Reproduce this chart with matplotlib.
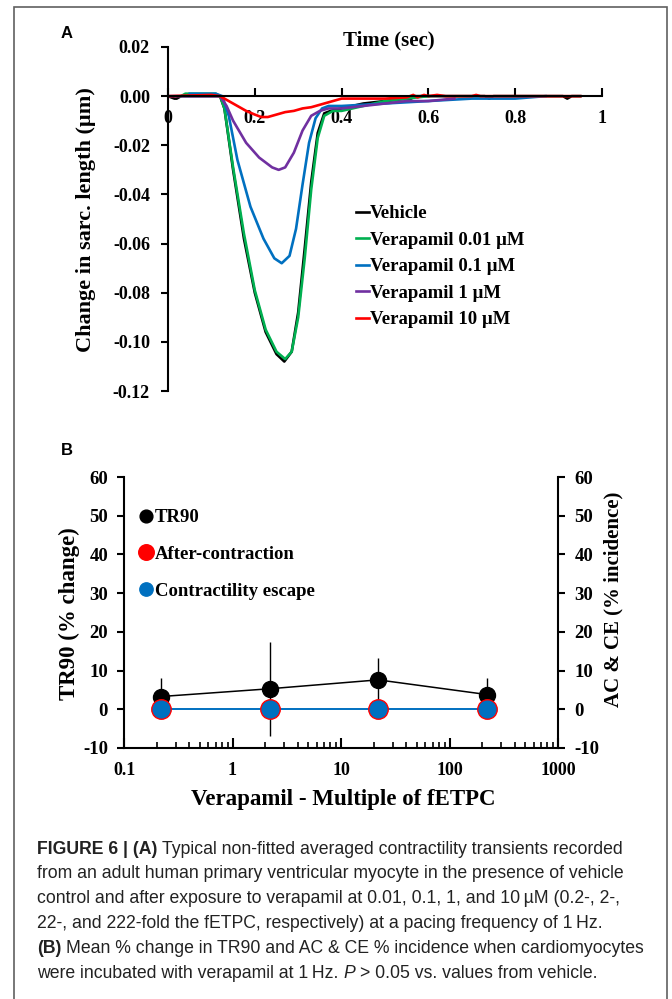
import matplotlib
matplotlib.use('Agg')
import matplotlib.pyplot as plt
from matplotlib import font_manager
from matplotlib.patches import Rectangle
from matplotlib.ticker import LogLocator, NullFormatter

# ---------------- panel A: contractility transients ----------------
t_vehicle = [0.0, 0.015, 0.02, 0.03, 0.10, 0.12, 0.13, 0.15, 0.175, 0.20, 0.225, 0.25, 0.268,
             0.285, 0.30, 0.315, 0.33, 0.345, 0.36, 0.375, 0.40, 0.45, 0.50, 0.55, 0.56, 0.57,
             0.60, 0.73, 0.74, 0.75, 0.91, 0.92, 0.93, 0.95]
y_vehicle = [0.0, -0.001, -0.001, 0.0, 0.0, 0.0, -0.005, -0.030, -0.058, -0.080, -0.096, -0.105, -0.108,
             -0.104, -0.088, -0.062, -0.035, -0.015, -0.007, -0.006, -0.005, -0.003, -0.002, -0.001, -0.001, 0.0,
             0.0, 0.0, -0.001, 0.0, 0.0, -0.001, 0.0, 0.0]

t_v001 = [0.03, 0.04, 0.11, 0.12, 0.13, 0.15, 0.175, 0.20, 0.225, 0.25, 0.27, 0.285, 0.30,
          0.315, 0.33, 0.345, 0.36, 0.38, 0.40, 0.45, 0.50, 0.55, 0.60]
y_v001 = [0.0, 0.001, 0.001, 0.0, -0.005, -0.029, -0.056, -0.079, -0.095, -0.104, -0.107, -0.104, -0.090,
          -0.066, -0.038, -0.017, -0.008, -0.006, -0.006, -0.004, -0.002, -0.001, 0.0]

t_v01 = [0.05, 0.11, 0.125, 0.14, 0.16, 0.19, 0.22, 0.245, 0.262, 0.28, 0.295, 0.31, 0.325,
         0.34, 0.355, 0.37, 0.40, 0.50, 0.60, 0.70, 0.80, 0.87]
y_v01 = [0.001, 0.001, 0.0, -0.008, -0.026, -0.045, -0.058, -0.066, -0.068, -0.065, -0.054, -0.036, -0.019,
         -0.009, -0.005, -0.004, -0.004, -0.003, -0.002, -0.001, -0.001, 0.0]

t_v1 = [0.0, 0.12, 0.135, 0.15, 0.18, 0.21, 0.24, 0.255, 0.27, 0.29, 0.31, 0.33, 0.35,
        0.37, 0.40, 0.45, 0.50, 0.55, 0.60, 0.66]
y_v1 = [0.0, 0.0, -0.004, -0.010, -0.019, -0.025, -0.029, -0.030, -0.029, -0.023, -0.014, -0.008, -0.006,
        -0.005, -0.005, -0.004, -0.003, -0.002, -0.002, -0.001]

t_v10 = [0.0, 0.10, 0.12, 0.14, 0.16, 0.18, 0.20, 0.215, 0.23, 0.25, 0.27, 0.29, 0.31, 0.33,
         0.35, 0.37, 0.39, 0.40, 0.45, 0.50, 0.55, 0.565, 0.575, 0.59, 0.60, 0.62, 0.64, 0.70,
         0.71, 0.72, 0.80, 0.95]
y_v10 = [0.0, 0.0005, 0.0, -0.002, -0.004, -0.006, -0.0075, -0.0085, -0.0085, -0.0075, -0.0065, -0.006, -0.005, -0.0045,
         -0.0035, -0.0025, -0.0015, -0.001, -0.001, -0.001, -0.0005, 0.0005, -0.0005, 0.0005, 0.0, 0.0005, 0.0, 0.0,
         0.0005, 0.0, 0.0, 0.0]

labels_a = ['Vehicle', 'Verapamil 0.01 \u00b5M', 'Verapamil 0.1 \u00b5M', 'Verapamil 1 \u00b5M', 'Verapamil 10 \u00b5M']
colors_a = ['black', '#00B050', '#0070C0', '#7030A0', '#FF0000']

# ---------------- panel B: summary vs fETPC multiple ----------------
fetpc = [0.22, 2.2, 22, 222]
tr90 = [3.3, 5.3, 7.6, 3.8]
tr90_err = [4.9, 12.1, 5.6, 4.3]
after_contraction = [0, 0, 0, 0]
contractility_escape = [0, 0, 0, 0]
xtick_labels_b = ['0.1', '1', '10', '100', '1000']

W, H = 672, 999
plt.rcParams['font.family'] = 'Liberation Serif'
plt.rcParams['font.weight'] = 'bold'
plt.rcParams['axes.labelweight'] = 'bold'
plt.rcParams['axes.unicode_minus'] = False

fig = plt.figure(figsize=(W / 100, H / 100), dpi=100)


def fx(px):
    return px / W


def fy(py):
    return 1 - py / H


# outer frame
fig.add_artist(Rectangle((fx(14), -0.01), fx(667) - fx(14), fy(7) + 0.01,
                         transform=fig.transFigure, fill=False, ec='#606060', lw=1.2))

# ---------------- panel A ----------------
ax = fig.add_axes([fx(168), fy(391), 434 / W, 344 / H])
series = [(t_vehicle, y_vehicle), (t_v001, y_v001), (t_v01, y_v01), (t_v1, y_v1), (t_v10, y_v10)]
for (t, y), lab, c in zip(series, labels_a, colors_a):
    ax.plot(t, y, color=c, lw=1.9, label=lab, solid_joinstyle='round')

ax.set_xlim(0, 1)
ax.set_ylim(-0.12, 0.02)
ax.spines['top'].set_visible(False)
ax.spines['right'].set_visible(False)
ax.spines['bottom'].set_position(('data', 0))
for s in ['left', 'bottom']:
    ax.spines[s].set_linewidth(1.5)
ax.set_xticks([0, 0.2, 0.4, 0.6, 0.8, 1.0])
ax.set_xticklabels(['0', '0.2', '0.4', '0.6', '0.8', '1'])
ax.set_yticks([0.02, 0.0, -0.02, -0.04, -0.06, -0.08, -0.10, -0.12])
ax.set_yticklabels(['%.2f' % v for v in [0.02, 0.0, -0.02, -0.04, -0.06, -0.08, -0.10, -0.12]])
ax.tick_params(axis='x', direction='in', length=6, width=1.5, pad=10, labelsize=13)
ax.tick_params(axis='y', direction='out', length=5, width=1.5, pad=8, labelsize=13)
ax.set_ylabel('Change in sarc. length (\u00b5m)', fontsize=16, fontweight='bold', va='center')
ax.yaxis.set_label_coords((86 - 168) / 434, 0.497)
ax.set_xlabel('Time (sec)', fontsize=15, fontweight='bold', va='center')
ax.xaxis.set_label_coords((389 - 168) / 434, (391 - 40) / 344)

fig.legend(loc='upper left', bbox_to_anchor=(fx(356), fy(205)), frameon=False,
           prop={'family': 'Liberation Serif', 'weight': 'bold', 'size': 13.5},
           handlelength=0.7, handletextpad=0.05, labelspacing=0.5, borderpad=0, borderaxespad=0)

# ---------------- panel B ----------------
axb = fig.add_axes([fx(124), fy(748), 434 / W, 271 / H])
axb.set_xscale('log')
axb.plot(fetpc, tr90, color='black', lw=1.1, zorder=2)
axb.errorbar(fetpc, tr90, yerr=tr90_err, fmt='none', ecolor='black', elinewidth=1.0, capsize=0, zorder=2)
h1, = axb.plot(fetpc, tr90, 'o', color='black', ms=11.5, label='TR90', zorder=3)
axb.set_xlim(0.1, 1000)
axb.set_ylim(-10, 60)
axb.set_yticks(range(-10, 61, 10))
axb.set_xticks([0.1, 1, 10, 100, 1000])
axb.set_xticklabels(xtick_labels_b)
axb.xaxis.set_minor_locator(LogLocator(base=10, subs=range(2, 10)))
axb.xaxis.set_minor_formatter(NullFormatter())
axb.spines['top'].set_visible(False)
axb.spines['right'].set_visible(False)
for s in ['left', 'bottom']:
    axb.spines[s].set_linewidth(1.5)
axb.tick_params(axis='x', which='major', direction='in', length=7, width=1.5, pad=10, labelsize=13)
axb.tick_params(axis='x', which='minor', direction='in', length=4, width=1.2)
axb.tick_params(axis='y', direction='out', length=5, width=1.5, pad=6.5, labelsize=13.5)
axb.set_ylabel('TR90 (% change)', fontsize=16.5, fontweight='bold', va='center')
axb.yaxis.set_label_coords((69 - 124) / 434, (748 - 614) / 271)
axb.set_xlabel('Verapamil - Multiple of fETPC', fontsize=16.5, fontweight='bold', va='center')
axb.xaxis.set_label_coords((343 - 124) / 434, (748 - 799) / 271)

axb2 = axb.twinx()
axb2.set_ylim(-10, 60)
axb2.set_yticks(range(-10, 61, 10))
for s in ['top', 'left', 'bottom']:
    axb2.spines[s].set_visible(False)
axb2.spines['right'].set_linewidth(1.5)
axb2.tick_params(axis='y', direction='out', length=5, width=1.5, pad=7, labelsize=13.5)
axb2.plot(fetpc, contractility_escape, color='#0070C0', lw=1.4, zorder=2)
h2, = axb2.plot(fetpc, after_contraction, 'o', color='#FF0000', ms=14, label='After-contraction', zorder=3)
h3, = axb2.plot(fetpc, contractility_escape, 'o', color='#0070C0', ms=12, label='Contractility escape', zorder=4)
axb2.set_ylabel('AC & CE (% incidence)', fontsize=15, fontweight='bold', va='center', rotation=90)
axb2.yaxis.set_label_coords((613 - 124) / 434, (748 - 599) / 271)

fig.legend(handles=[h1, h2, h3], loc='upper left', bbox_to_anchor=(fx(138), fy(509)), frameon=False,
           prop={'family': 'Liberation Serif', 'weight': 'bold', 'size': 13.5}, markerscale=0.8,
           handlelength=0.9, handletextpad=0.0, labelspacing=1.05, borderpad=0, borderaxespad=0)

# panel letters
fig.text(fx(67), fy(33), 'A', family='Liberation Sans', weight='bold', fontsize=12, ha='center', va='center')
fig.text(fx(67), fy(450), 'B', family='Liberation Sans', weight='bold', fontsize=12, ha='center', va='center')

# ---------------- caption ----------------
names = {f.name for f in font_manager.fontManager.ttflist}
cap_family = 'Liberation Sans Narrow' if 'Liberation Sans Narrow' in names else 'Liberation Sans'
renderer = fig.canvas.get_renderer()

caption = [
    [('FIGURE 6 | (A)', 'bold', 'normal'), ('Typical non-fitted averaged contractility transients recorded', 'normal', 'normal')],
    [('from an adult human primary ventricular myocyte in the presence of vehicle', 'normal', 'normal')],
    [('control and after exposure to verapamil at 0.01, 0.1, 1, and 10\u2009\u00b5M (0.2-, 2-,', 'normal', 'normal')],
    [('22-, and 222-fold the fETPC, respectively) at a pacing frequency of 1\u2009Hz.', 'normal', 'normal')],
    [('(B)', 'bold', 'normal'), ('Mean % change in TR90 and AC & CE % incidence when cardiomyocytes', 'normal', 'normal')],
    [('were incubated with verapamil at 1\u2009Hz.', 'normal', 'normal'), ('P', 'normal', 'italic'),
     ('> 0.05 vs. values from vehicle.', 'normal', 'normal')],
]


def text_width(s, size, weight='normal', style='normal'):
    t = fig.text(0, 0, s, fontsize=size, weight=weight, style=style, family=[cap_family, 'DejaVu Sans'])
    w = t.get_window_extent(renderer).width
    t.remove()
    return w


ref_line = 'from an adult human primary ventricular myocyte in the presence of vehicle'
cap_size = 10 * 590 / text_width(ref_line, 10)
space = text_width('a a', cap_size) - text_width('aa', cap_size)

for i, runs in enumerate(caption):
    x = 37
    y = 849 + 24.8 * i
    for s, weight, style in runs:
        t = fig.text(fx(x), fy(y), s, fontsize=cap_size, weight=weight, style=style,
                     family=[cap_family, 'DejaVu Sans'], ha='left', va='center', color='#222222')
        x += t.get_window_extent(renderer).width + space

fig.savefig('out.png', dpi=100)
